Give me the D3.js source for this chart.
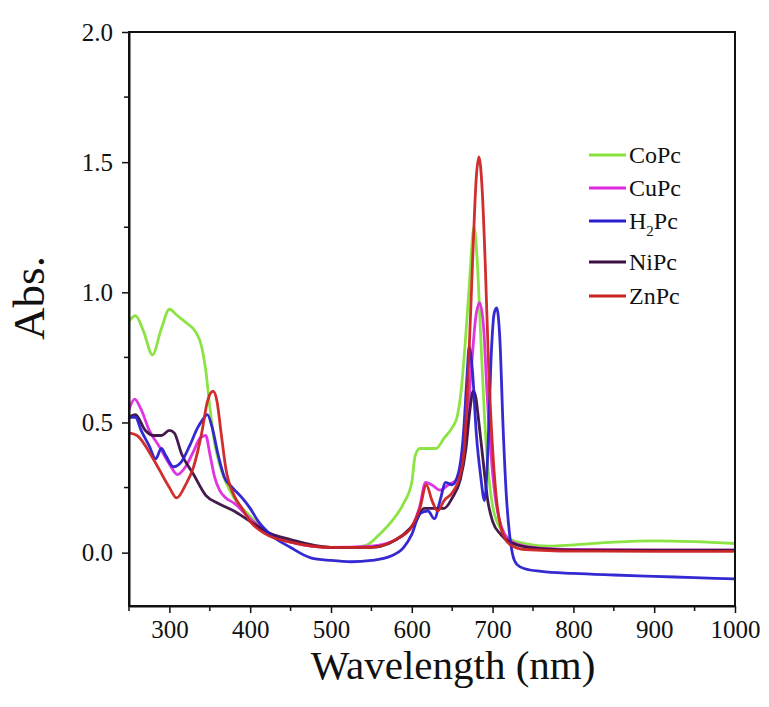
<!DOCTYPE html>
<html><head><meta charset="utf-8">
<script src="https://cdn.jsdelivr.net/npm/d3@7"></script>
<style>body{margin:0;background:#fff;} text{font-family:"Liberation Serif","Times New Roman",serif;fill:#111;}</style>
</head><body>
<svg id="chart" width="769" height="707"></svg>
<script>
const seriesNames = ["CoPc","CuPc","H2Pc","NiPc","ZnPc"];
const seriesColors = ["#86e23a","#dd2adf","#2a1fd0","#3a0f42","#cc2424"];
const xTicks = [300,400,500,600,700,800,900,1000];
const yTicks = [0.0,0.5,1.0,1.5,2.0];

const wlCoPc = [250,258,268,279,290,300,310,322,332,340,345,350,356,362,370,380,400,420,440,470,500,530,545,560,575,590,600,604,610,620,630,640,650,656,661,666,671,677,681,685,690,695,700,710,720,740,770,800,850,900,950,1000];
const vCoPc  = [0.89,0.91,0.85,0.76,0.86,0.935,0.91,0.88,0.85,0.79,0.70,0.56,0.42,0.34,0.27,0.21,0.14,0.08,0.05,0.03,0.02,0.02,0.03,0.07,0.12,0.19,0.27,0.37,0.40,0.40,0.40,0.44,0.48,0.52,0.62,0.80,1.02,1.25,1.12,0.85,0.52,0.30,0.18,0.09,0.055,0.035,0.025,0.03,0.04,0.045,0.042,0.035];

const wlCuPc = [250,257,265,275,287,300,310,320,330,338,345,350,356,362,370,380,400,420,450,500,550,580,600,610,617,625,635,645,655,662,668,674,679,684,689,693,698,703,708,715,725,740,770,800,900,1000];
const vCuPc  = [0.55,0.59,0.55,0.47,0.41,0.34,0.30,0.33,0.39,0.44,0.45,0.38,0.29,0.24,0.21,0.19,0.13,0.08,0.04,0.02,0.025,0.05,0.10,0.18,0.27,0.26,0.24,0.26,0.28,0.34,0.48,0.72,0.90,0.96,0.86,0.62,0.38,0.22,0.13,0.07,0.04,0.025,0.015,0.012,0.01,0.01];

const wlH2Pc = [250,258,265,275,283,290,296,305,315,325,335,341,347,353,360,368,378,390,400,410,425,450,475,500,525,550,575,590,600,610,620,628,635,642,650,658,664,668,671,675,680,685,690,694,698,702,705,709,713,717,721,725,730,740,760,800,850,900,950,1000];
const vH2Pc  = [0.52,0.52,0.47,0.41,0.36,0.40,0.37,0.33,0.35,0.41,0.48,0.51,0.53,0.48,0.38,0.29,0.25,0.21,0.17,0.12,0.07,0.02,-0.02,-0.03,-0.035,-0.03,-0.012,0.02,0.07,0.15,0.16,0.13,0.20,0.27,0.26,0.31,0.46,0.66,0.79,0.70,0.45,0.30,0.20,0.38,0.74,0.92,0.94,0.82,0.48,0.22,0.07,-0.01,-0.045,-0.062,-0.072,-0.08,-0.086,-0.091,-0.096,-0.101];

const wlNiPc = [250,258,270,280,290,300,306,315,330,345,360,380,400,420,450,500,550,590,605,615,625,640,650,660,667,672,676,679,683,688,694,700,710,730,760,800,900,1000];
const vNiPc  = [0.52,0.53,0.47,0.45,0.45,0.47,0.46,0.38,0.30,0.22,0.19,0.16,0.12,0.08,0.05,0.02,0.02,0.07,0.12,0.17,0.17,0.17,0.21,0.28,0.40,0.55,0.62,0.60,0.50,0.36,0.20,0.12,0.07,0.03,0.015,0.01,0.01,0.01];

const wlZnPc = [250,260,280,300,309,320,330,340,347,354,359,364,370,380,390,400,420,450,500,550,580,600,610,618,625,632,640,650,660,665,670,675,680,683,687,691,695,700,705,710,716,722,740,800,900,1000];
const vZnPc  = [0.46,0.45,0.36,0.25,0.21,0.26,0.33,0.46,0.58,0.62,0.58,0.46,0.32,0.22,0.17,0.12,0.07,0.04,0.02,0.02,0.05,0.10,0.17,0.26,0.20,0.16,0.20,0.23,0.30,0.40,0.70,1.10,1.45,1.52,1.40,1.10,0.72,0.40,0.20,0.10,0.05,0.03,0.012,0.006,0.005,0.005];

const seriesX = [wlCoPc,wlCuPc,wlH2Pc,wlNiPc,wlZnPc];
const seriesY = [vCoPc,vCuPc,vH2Pc,vNiPc,vZnPc];

const svg = d3.select("#chart");
const L=129, R=735, T=32, B=606;
const x = d3.scaleLinear().domain([250,1000]).range([L,R]);
const y = d3.scaleLinear().domain([-0.205,2.0]).range([B,T]);

const xMinor = d3.range(250,1001,50).filter(v=>!xTicks.includes(v));
const yMinor = d3.range(0.25,2.0,0.5);

const line = d3.line().x(d=>x(d[0])).y(d=>y(d[1])).curve(d3.curveMonotoneX);
const plot = svg.append("g");
const order = [0,1,3,2,4];
order.forEach(i=>{
  const pts = seriesX[i].map((w,k)=>[w,seriesY[i][k]]);
  plot.append("path").attr("d",line(pts)).attr("fill","none")
    .attr("stroke",seriesColors[i]).attr("stroke-width",2.8).attr("stroke-linejoin","round").attr("opacity",0.95);
});

svg.append("rect").attr("x",L).attr("y",T).attr("width",R-L).attr("height",B-T)
  .attr("fill","none").attr("stroke","#111").attr("stroke-width",2);

const xAxis = d3.axisBottom(x).tickValues(xTicks).tickSize(7).tickSizeOuter(0).tickPadding(7).tickFormat(d3.format("d"));
const gx = svg.append("g").attr("transform",`translate(0,${B})`).call(xAxis);
gx.append("g").selectAll("line").data(xMinor).join("line")
  .attr("x1",d=>x(d)).attr("x2",d=>x(d)).attr("y1",0).attr("y2",5).attr("stroke","#111").attr("stroke-width",1.5);
const yAxis = d3.axisLeft(y).tickValues(yTicks).tickSize(7).tickSizeOuter(0).tickPadding(9).tickFormat(d3.format(".1f"));
const gy = svg.append("g").attr("transform",`translate(${L},0)`).call(yAxis);
gy.append("g").selectAll("line").data(yMinor).join("line")
  .attr("x1",0).attr("x2",-5).attr("y1",d=>y(d)).attr("y2",d=>y(d)).attr("stroke","#111").attr("stroke-width",1.5);
[gx,gy].forEach(g=>{
  g.attr("font-size",null).attr("font-family",null);
  g.select(".domain").attr("stroke","#111").attr("stroke-width",2);
  g.selectAll(".tick line").attr("stroke","#111").attr("stroke-width",1.5);
  g.selectAll(".tick text").style("font-size","25px").style("font-family","Liberation Serif").attr("fill","#222");
});

svg.append("text").attr("x",453).attr("y",679).attr("text-anchor","middle")
  .style("font-size","41px").text("Wavelength (nm)");
svg.append("text").attr("transform","translate(44,298) rotate(-90)").attr("text-anchor","middle")
  .style("font-size","45px").text("Abs.");

const legY = [155,188,221,262,296];
const lg = svg.append("g");
seriesNames.forEach((n,i)=>{
  lg.append("line").attr("x1",589).attr("x2",626).attr("y1",legY[i]).attr("y2",legY[i])
    .attr("stroke",seriesColors[i]).attr("stroke-width",2.8);
  const t = lg.append("text").attr("x",629).attr("y",legY[i]+8).style("font-size","24px");
  if(n==="H2Pc"){
    t.append("tspan").text("H");
    t.append("tspan").style("font-size","15px").attr("dy",7).text("2");
    t.append("tspan").attr("dy",-7).text("Pc");
  } else t.text(n);
});
</script>
</body></html>
